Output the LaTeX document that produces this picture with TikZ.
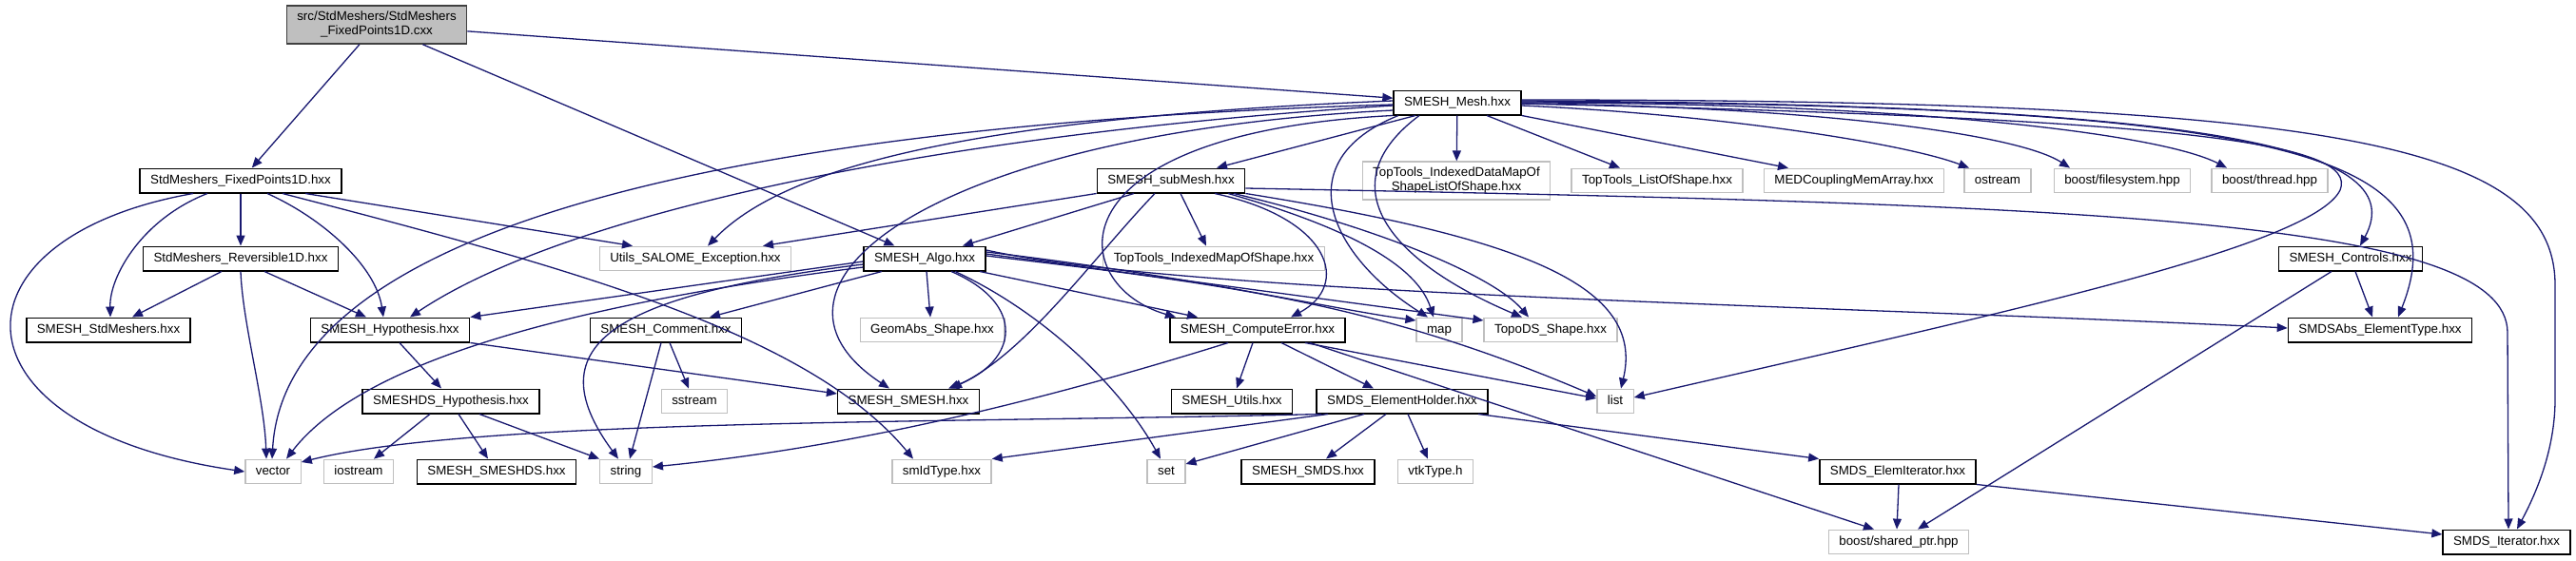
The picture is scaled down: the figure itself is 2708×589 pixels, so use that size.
\documentclass[tikz,border=0pt]{standalone}
\usepackage{fontspec}
\setmainfont{Liberation Sans}
\usetikzlibrary{arrows.meta}
\definecolor{depblue}{RGB}{25, 25, 112}
\definecolor{extgray}{RGB}{191, 191, 191}
\tikzset{
 hdrfile/.style={
 rectangle,
 draw=black,
 fill=white,
 line width=1.5pt,
 inner xsep=11pt,
 inner ysep=0pt,
 minimum height=25.5pt,
 text height=9.6pt,
 text depth=2.8pt,
 font=\fontsize{13.33}{15}\selectfont
 },
 extfile/.style={
 hdrfile,
 draw=extgray,
 line width=1.3pt
 },
 twoline/.style={
 align=center,
 minimum height=40pt,
 text height=24.6pt,
 text depth=2.8pt
 },
 mainfile/.style={
 hdrfile,
 twoline,
 draw=black!75,
 fill=extgray
 },
 incarrow/.style={-{Triangle[length=11pt, width=9pt]}, line width=1.3pt, draw=depblue}
}

\begin{document}
\begin{tikzpicture}[x=1pt, y=-1pt]
	\useasboundingbox (0,0) rectangle (2708,589);

	\node[mainfile] (src) at (396,26) {src/StdMeshers/StdMeshers\\\_FixedPoints1D.cxx};
	\node[hdrfile] (mesh) at (1532,108) {SMESH\_Mesh.hxx};

	\node[hdrfile] (fpoints) at (253,190) {StdMeshers\_FixedPoints1D.hxx};
	\node[hdrfile] (submesh) at (1231,190) {SMESH\_subMesh.hxx};
	\node[extfile, twoline] (ttdatamap) at (1531,190) {TopTools\_IndexedDataMapOf\\ShapeListOfShape.hxx};
	\node[extfile] (ttlist) at (1742,190) {TopTools\_ListOfShape.hxx};
	\node[extfile] (medarray) at (1949,190) {MEDCouplingMemArray.hxx};
	\node[extfile] (ostream) at (2100,190) {ostream};
	\node[extfile] (filesys) at (2231,190) {boost/filesystem.hpp};
	\node[extfile] (thread) at (2386,190) {boost/thread.hpp};

	\node[hdrfile] (revers) at (253,272) {StdMeshers\_Reversible1D.hxx};
	\node[extfile] (salome) at (731,272) {Utils\_SALOME\_Exception.hxx};
	\node[hdrfile] (algo) at (972,272) {SMESH\_Algo.hxx};
	\node[extfile] (ttmap) at (1276,272) {TopTools\_IndexedMapOfShape.hxx};
	\node[hdrfile] (controls) at (2471,272) {SMESH\_Controls.hxx};

	\node[hdrfile] (stdmesh) at (114,347) {SMESH\_StdMeshers.hxx};
	\node[hdrfile] (hypo) at (410,347) {SMESH\_Hypothesis.hxx};
	\node[hdrfile] (comment) at (700,347) {SMESH\_Comment.hxx};
	\node[extfile] (geomabs) at (980,347) {GeomAbs\_Shape.hxx};
	\node[hdrfile] (comperr) at (1322,347) {SMESH\_ComputeError.hxx};
	\node[extfile] (map) at (1513,347) {map};
	\node[extfile] (topods) at (1630,347) {TopoDS\_Shape.hxx};
	\node[hdrfile] (elemtype) at (2502,347) {SMDSAbs\_ElementType.hxx};

	\node[hdrfile] (dshypo) at (474,422) {SMESHDS\_Hypothesis.hxx};
	\node[extfile] (sstream) at (730,422) {sstream};
	\node[hdrfile] (smesh) at (955,422) {SMESH\_SMESH.hxx};
	\node[hdrfile] (utils) at (1295,422) {SMESH\_Utils.hxx};
	\node[hdrfile] (holder) at (1474,422) {SMDS\_ElementHolder.hxx};
	\node[extfile] (list) at (1698,422) {list};

	\node[extfile] (vector) at (287,496) {vector};
	\node[extfile] (iostream) at (377,496) {iostream};
	\node[hdrfile] (smeshds) at (522,496) {SMESH\_SMESHDS.hxx};
	\node[extfile] (string) at (658,496) {string};
	\node[extfile] (smidtype) at (990,496) {smIdType.hxx};
	\node[extfile] (set) at (1226,496) {set};
	\node[hdrfile] (smds) at (1375,496) {SMESH\_SMDS.hxx};
	\node[extfile] (vtktype) at (1509,496) {vtkType.h};
	\node[hdrfile] (elemiter) at (1995,496) {SMDS\_ElemIterator.hxx};

	\node[extfile] (sharedptr) at (1996,570) {boost/shared\_ptr.hpp};
	\node[hdrfile] (iterator) at (2635,570) {SMDS\_Iterator.hxx};

	\draw[incarrow] (src) -- (fpoints);
	\draw[incarrow] (src) -- (mesh);
	\draw[incarrow] (src) -- (algo);

	\draw[incarrow] (fpoints) -- (revers);
	\draw[incarrow] ([xshift=-35pt]fpoints.south) .. controls (150,230) and (115,290) .. ([xshift=2pt]stdmesh.north);
	\draw[incarrow] ([xshift=-50pt]fpoints.south) .. controls (-60,250) and (-60,450) .. (vector.west);
	\draw[incarrow] ([xshift=28pt]fpoints.south) .. controls (340,230) and (395,280) .. ([xshift=-7pt]hypo.north);
	\draw[incarrow] ([xshift=68pt]fpoints.south) -- ([xshift=-66pt]salome.north);
	\draw[incarrow] ([xshift=44pt]fpoints.south) .. controls (600,282) and (850,350) .. ([xshift=-30pt]smidtype.north);

	\draw[incarrow] ([xshift=-20pt]revers.south) -- ([xshift=25pt]stdmesh.north);
	\draw[incarrow] (revers.south) .. controls (255,340) and (278,420) .. ([xshift=-7pt]vector.north);
	\draw[incarrow] ([xshift=25pt]revers.south) -- ([xshift=-25pt]hypo.north);

	\draw[incarrow] ([xshift=-44pt]mesh.south) -- ([xshift=48pt]submesh.north);
	\draw[incarrow] ([yshift=-2pt]mesh.west) .. controls (800,130) and (300,230) .. ([xshift=-1pt]vector.north);
	\draw[incarrow] ([yshift=-3pt]mesh.west) .. controls (1000,140) and (600,220) .. ([xshift=21pt]hypo.north);
	\draw[incarrow] ([yshift=2pt]mesh.west) .. controls (1000,125) and (820,180) .. ([xshift=13pt]salome.north);
	\draw[incarrow] ([yshift=-8pt]mesh.west) .. controls (980,140) and (770,300) .. ([xshift=-20pt]smesh.north);
	\draw[incarrow] (mesh.south west) .. controls (1100,140) and (1120,300) .. ([xshift=-86pt]comperr.north);
	\draw[incarrow] ([xshift=-62pt]mesh.south) .. controls (1350,170) and (1400,270) .. ([xshift=-12pt]map.north);
	\draw[incarrow] ([xshift=-40pt]mesh.south) .. controls (1400,190) and (1450,270) .. ([xshift=-30pt]topods.north);
	\draw[incarrow] (mesh) -- (ttdatamap);
	\draw[incarrow] ([xshift=31pt]mesh.south) -- ([xshift=-39pt]ttlist.north);
	\draw[incarrow] (mesh.south east) -- ([xshift=-69pt]medarray.north);
	\draw[incarrow] ([yshift=-3pt]mesh.east) .. controls (1800,120) and (2000,150) .. ([xshift=-30pt]ostream.north);
	\draw[incarrow] ([yshift=-1pt]mesh.east) .. controls (1900,112) and (2120,140) .. ([xshift=-55pt]filesys.north);
	\draw[incarrow] (mesh.east) .. controls (2000,108) and (2270,140) .. ([xshift=-45pt]thread.north);
	\draw[incarrow] ([yshift=2pt]mesh.east) .. controls (2300,110) and (2540,150) .. ([xshift=10pt]controls.north);
	\draw[incarrow] ([yshift=1pt]mesh.east) .. controls (2400,110) and (2590,160) .. ([xshift=19pt]elemtype.north);
	\draw[incarrow] ([yshift=3pt]mesh.east) .. controls (2450,105) and (2686,150) .. (2686,300) -- (2686,420) .. controls (2686,480) and (2660,530) .. ([xshift=11pt]iterator.north);
	\draw[incarrow] ([yshift=-1pt]mesh.east) .. controls (2300,125) and (2480,150) .. (2460,200) .. controls (2430,260) and (2100,330) .. ([yshift=4pt]list.east);

	\draw[incarrow] (submesh.south west) -- ([xshift=71pt]salome.north);
	\draw[incarrow] ([xshift=-39pt]submesh.south) -- ([xshift=40pt]algo.north);
	\draw[incarrow] ([xshift=-17pt]submesh.south) .. controls (1150,270) and (1080,370) .. ([xshift=45pt]smesh.north);
	\draw[incarrow] ([xshift=10pt]submesh.south) -- ([xshift=-8pt]ttmap.north);
	\draw[incarrow] ([xshift=46pt]submesh.south) .. controls (1400,230) and (1420,300) .. ([xshift=35pt]comperr.north);
	\draw[incarrow] ([xshift=60pt]submesh.south) .. controls (1420,240) and (1490,280) .. ([xshift=-6pt]map.north);
	\draw[incarrow] ([xshift=66pt]submesh.south) .. controls (1450,240) and (1570,290) .. ([xshift=-23pt]topods.north);
	\draw[incarrow] (submesh.south east) .. controls (1600,250) and (1730,300) .. ([xshift=6pt]list.north);
	\draw[incarrow] ([yshift=-8pt]submesh.east) .. controls (2200,215) and (2636,230) .. (2636,350) -- ([xshift=2pt]iterator.north);

	\draw[incarrow] ([yshift=-3pt]algo.west) -- (hypo.north east);
	\draw[incarrow] ([yshift=-6pt]algo.west) .. controls (650,310) and (560,360) .. ([xshift=-8pt]string.north);
	\draw[incarrow] ([yshift=-9pt]algo.west) .. controls (600,320) and (380,380) .. ([xshift=14pt]vector.north);
	\draw[incarrow] ([xshift=-45pt]algo.south) -- ([xshift=46pt]comment.north);
	\draw[incarrow] ([xshift=2pt]algo.south) -- ([xshift=-2pt]geomabs.north);
	\draw[incarrow] ([xshift=28pt]algo.south) .. controls (1080,320) and (1070,380) .. ([xshift=42pt]smesh.north);
	\draw[incarrow] ([xshift=32pt]algo.south) .. controls (1100,330) and (1180,410) .. ([xshift=-6pt]set.north);
	\draw[incarrow] ([xshift=58pt]algo.south) -- ([xshift=-63pt]comperr.north);
	\draw[incarrow] ([yshift=7pt]algo.east) .. controls (1250,290) and (1400,325) .. ([yshift=10pt]map.west);
	\draw[incarrow] ([yshift=5pt]algo.east) -- ([yshift=10pt]topods.west);
	\draw[incarrow] ([yshift=3pt]algo.east) .. controls (1300,300) and (1450,320) .. ([yshift=5pt]list.west);
	\draw[incarrow] ([yshift=9pt]algo.east) .. controls (1250,310) and (1900,320) .. ([yshift=2pt]elemtype.west);

	\draw[incarrow] ([xshift=10pt]hypo.south) -- ([xshift=-10pt]dshypo.north);
	\draw[incarrow] (hypo.south east) -- ([yshift=8pt]smesh.west);

	\draw[incarrow] ([xshift=-22pt]dshypo.south) -- ([xshift=16pt]iostream.north);
	\draw[incarrow] ([xshift=8pt]dshypo.south) -- ([xshift=-9pt]smeshds.north);
	\draw[incarrow] ([xshift=30pt]dshypo.south) -- (string.north west);

	\draw[incarrow] ([xshift=-5pt]comment.south) -- ([xshift=4pt]string.north);
	\draw[incarrow] ([xshift=4pt]comment.south) -- ([xshift=-6pt]sstream.north);

	\draw[incarrow] ([xshift=-5pt]comperr.south) -- ([xshift=5pt]utils.north);
	\draw[incarrow] ([xshift=-31pt]comperr.south) .. controls (1100,420) and (900,470) .. ([yshift=5pt]string.east);
	\draw[incarrow] ([xshift=25pt]comperr.south) -- ([xshift=-30pt]holder.north);
	\draw[incarrow] ([xshift=50pt]comperr.south) -- ([yshift=3pt]list.west);
	\draw[incarrow] ([xshift=55pt]comperr.south) -- ([xshift=-26pt]sharedptr.north);

	\draw[incarrow] ([xshift=-85pt]holder.south) .. controls (1000,445) and (500,440) .. ([yshift=10pt]vector.east);
	\draw[incarrow] ([xshift=-78pt]holder.south) -- (smidtype.north east);
	\draw[incarrow] ([xshift=-40pt]holder.south) -- ([yshift=8pt]set.east);
	\draw[incarrow] ([xshift=-17pt]holder.south) -- ([xshift=19pt]smds.north);
	\draw[incarrow] ([xshift=6pt]holder.south) -- ([xshift=-8pt]vtktype.north);
	\draw[incarrow] ([xshift=80pt]holder.south) -- (elemiter.north west);

	\draw[incarrow] ([xshift=1pt]elemiter.south) -- ([xshift=-2pt]sharedptr.north);
	\draw[incarrow] (elemiter.south east) -- ([yshift=8pt]iterator.west);

	\draw[incarrow] ([xshift=-20pt]controls.south) -- ([xshift=20pt]sharedptr.north);
	\draw[incarrow] ([xshift=5pt]controls.south) -- ([xshift=-8pt]elemtype.north);
\end{tikzpicture}
\end{document}
